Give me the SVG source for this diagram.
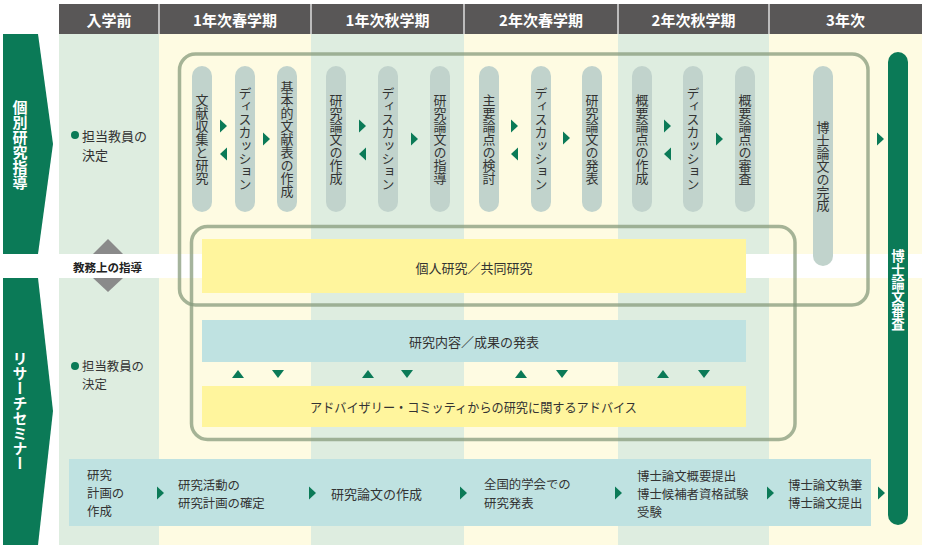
<svg xmlns="http://www.w3.org/2000/svg" width="925" height="548" viewBox="0 0 925 548">
<style>
text{font-family:"Noto Sans CJK JP","Noto Sans",sans-serif}
.hd{fill:#fff;font-size:15px;font-weight:bold;text-anchor:middle;dominant-baseline:central}
.bn{fill:#fff;font-size:15px;font-weight:bold;writing-mode:vertical-rl;text-anchor:middle}
.vt{fill:#333;font-size:13px;writing-mode:vertical-rl;text-anchor:middle}
.t{fill:#333;font-size:13px;dominant-baseline:central}
.m{fill:#333;font-size:12.4px;dominant-baseline:central}
.tc{fill:#333;font-size:13px;text-anchor:middle;dominant-baseline:central}
.g{fill:#deede0}
.y{fill:#fefbe2}
.pill{fill:#c1d3cc}
.arr{fill:#0b7a57}
.ol{fill:none;stroke:#879b7c;stroke-opacity:0.75;stroke-width:3.5}
.teal{fill:#bfe2e1}
.ybox{fill:#fff59d}
</style>
<defs>
<path id="ar" d="M0,-6.5 L7,0 L0,6.5 Z"/>
<path id="al" d="M7,-6.5 L0,0 L7,6.5 Z"/>
<path id="au" d="M-6,4 L6,4 L0,-4 Z"/>
<path id="ad" d="M-6,-4 L6,-4 L0,4 Z"/>
</defs>
<rect width="925" height="548" fill="#fff"/>
<g id="columns">
<rect class="g" x="59" y="34" width="100" height="511"/>
<rect class="y" x="159" y="34" width="152" height="511"/>
<rect class="g" x="311" y="34" width="153" height="511"/>
<rect class="y" x="464" y="34" width="154" height="511"/>
<rect class="g" x="618" y="34" width="151" height="511"/>
<rect class="y" x="769" y="34" width="153" height="511"/>
<rect x="59" y="254" width="863" height="24" fill="#fff"/>
</g>
<g id="header">
<rect x="59" y="4" width="863" height="30" fill="#595757"/>
<g stroke="#fff" stroke-width="1.2">
<line x1="159" y1="4" x2="159" y2="34"/><line x1="311" y1="4" x2="311" y2="34"/><line x1="464" y1="4" x2="464" y2="34"/><line x1="618" y1="4" x2="618" y2="34"/><line x1="769" y1="4" x2="769" y2="34"/>
</g>
<text class="hd" x="109" y="19">入学前</text>
<text class="hd" x="235" y="19">1年次春学期</text>
<text class="hd" x="387.5" y="19">1年次秋学期</text>
<text class="hd" x="541" y="19">2年次春学期</text>
<text class="hd" x="693.5" y="19">2年次秋学期</text>
<text class="hd" x="845.5" y="19">3年次</text>
</g>
<g id="banner-kobetsu">
<polygon points="3,34 38,34 53,144 38,254 3,254" fill="#0b7a57"/>
<text class="bn" x="20" y="145">個別研究指導</text>
</g>
<g id="banner-seminar">
<polygon points="3,278 38,278 53,411 38,545 3,545" fill="#0b7a57"/>
<text class="bn" x="20" y="411">リサーチセミナー</text>
</g>
<g id="kyomu">
<polygon points="93,254 123,254 108,239" fill="#8a8a8a"/>
<polygon points="93,278 123,278 108,292" fill="#8a8a8a"/>
<text x="73" y="267" style="font-size:11.5px;font-weight:bold;fill:#222;dominant-baseline:central">教務上の指導</text>
</g>
<g id="tanto1">
<circle cx="75" cy="135" r="4" fill="#0b7a57"/>
<text class="t"><tspan x="82" y="135">担当教員の</tspan><tspan x="82" y="154">決定</tspan></text>
</g>
<g id="tanto2">
<circle cx="75" cy="366" r="4" fill="#0b7a57"/>
<text class="m"><tspan x="82" y="366">担当教員の</tspan><tspan x="82" y="384">決定</tspan></text>
</g>
<g id="pills">
<g id="p1"><rect class="pill" x="192" y="66" width="20" height="146" rx="10"/><text class="vt" x="202" y="139">文献収集と研究</text></g>
<g id="p2"><rect class="pill" x="235" y="66" width="20" height="146" rx="10"/><text class="vt" x="245" y="139">ディスカッション</text></g>
<g id="p3"><rect class="pill" x="277" y="66" width="20" height="146" rx="10"/><text class="vt" x="287" y="139">基本的文献表の作成</text></g>
<g id="p4"><rect class="pill" x="326" y="66" width="20" height="146" rx="10"/><text class="vt" x="336" y="139">研究論文の作成</text></g>
<g id="p5"><rect class="pill" x="378" y="66" width="20" height="146" rx="10"/><text class="vt" x="388" y="139">ディスカッション</text></g>
<g id="p6"><rect class="pill" x="430" y="66" width="20" height="146" rx="10"/><text class="vt" x="440" y="139">研究論文の指導</text></g>
<g id="p7"><rect class="pill" x="479" y="66" width="20" height="146" rx="10"/><text class="vt" x="489" y="139">主要論点の検討</text></g>
<g id="p8"><rect class="pill" x="531" y="66" width="20" height="146" rx="10"/><text class="vt" x="541" y="139">ディスカッション</text></g>
<g id="p9"><rect class="pill" x="582" y="66" width="20" height="146" rx="10"/><text class="vt" x="592" y="139">研究論文の発表</text></g>
<g id="p10"><rect class="pill" x="632" y="66" width="20" height="146" rx="10"/><text class="vt" x="642" y="139">概要論点の作成</text></g>
<g id="p11"><rect class="pill" x="683" y="66" width="20" height="146" rx="10"/><text class="vt" x="693" y="139">ディスカッション</text></g>
<g id="p12"><rect class="pill" x="735" y="66" width="20" height="146" rx="10"/><text class="vt" x="745" y="139">概要論点の審査</text></g>
<g id="p13"><rect class="pill" x="813" y="66" width="20" height="200" rx="10"/><text class="vt" x="823" y="166">博士論文の完成</text></g>
</g>
<g id="shinsa">
<rect x="888" y="52" width="20" height="473" rx="10" fill="#0b7a57"/>
<text x="898" y="290" style="fill:#fff;font-size:13.5px;font-weight:bold;writing-mode:vertical-rl;text-anchor:middle">博士論文審査</text>
</g>
<g id="kojin">
<rect class="ybox" x="202" y="239" width="544" height="54"/>
<text class="tc" x="474" y="267">個人研究／共同研究</text>
</g>
<g id="happyo">
<rect class="teal" x="202" y="320" width="544" height="42"/>
<text class="tc" x="474" y="341">研究内容／成果の発表</text>
</g>
<g id="advice">
<rect class="ybox" x="202" y="386" width="544" height="41"/>
<text class="t" x="310" y="406" textLength="327" lengthAdjust="spacingAndGlyphs">アドバイザリー・コミッティからの研究に関するアドバイス</text>
</g>
<g id="seminar-flow">
<rect class="teal" x="69" y="459" width="802" height="67"/>
<text class="m"><tspan x="87" y="475">研究</tspan><tspan x="87" y="493">計画の</tspan><tspan x="87" y="511">作成</tspan></text>
<text class="m"><tspan x="178" y="485">研究活動の</tspan><tspan x="178" y="503">研究計画の確定</tspan></text>
<text class="t" x="331" y="493">研究論文の作成</text>
<text class="m"><tspan x="484" y="484">全国的学会での</tspan><tspan x="484" y="503">研究発表</tspan></text>
<text class="m"><tspan x="637" y="476">博士論文概要提出</tspan><tspan x="637" y="494">博士候補者資格試験</tspan><tspan x="637" y="512">受験</tspan></text>
<text class="m"><tspan x="788" y="485">博士論文執筆</tspan><tspan x="788" y="503">博士論文提出</tspan></text>
</g>
<g id="outlines">
<rect class="ol" x="179.5" y="54" width="688.5" height="251" rx="16"/>
<rect class="ol" x="191.5" y="226.5" width="603.5" height="213" rx="16"/>
</g>
<g id="connectors" class="arr">
<use href="#ar" x="220" y="126"/><use href="#al" x="220" y="154"/><use href="#ar" x="263" y="139"/>
<use href="#ar" x="359" y="126"/><use href="#al" x="359" y="154"/><use href="#ar" x="411" y="139"/>
<use href="#ar" x="511" y="126"/><use href="#al" x="511" y="154"/><use href="#ar" x="563" y="138"/>
<use href="#ar" x="664" y="126"/><use href="#al" x="664" y="154"/><use href="#ar" x="716" y="139"/>
<use href="#ar" x="877" y="139"/>
<use href="#au" x="238" y="374"/><use href="#ad" x="278" y="374"/>
<use href="#au" x="368" y="374"/><use href="#ad" x="407" y="374"/>
<use href="#au" x="521" y="374"/><use href="#ad" x="562" y="374"/>
<use href="#au" x="663" y="374"/><use href="#ad" x="704" y="374"/>
<use href="#ar" x="157" y="493"/><use href="#ar" x="309" y="493"/><use href="#ar" x="460" y="493"/><use href="#ar" x="615" y="493"/><use href="#ar" x="767" y="493"/><use href="#ar" x="878" y="493"/>
</g>
</svg>
